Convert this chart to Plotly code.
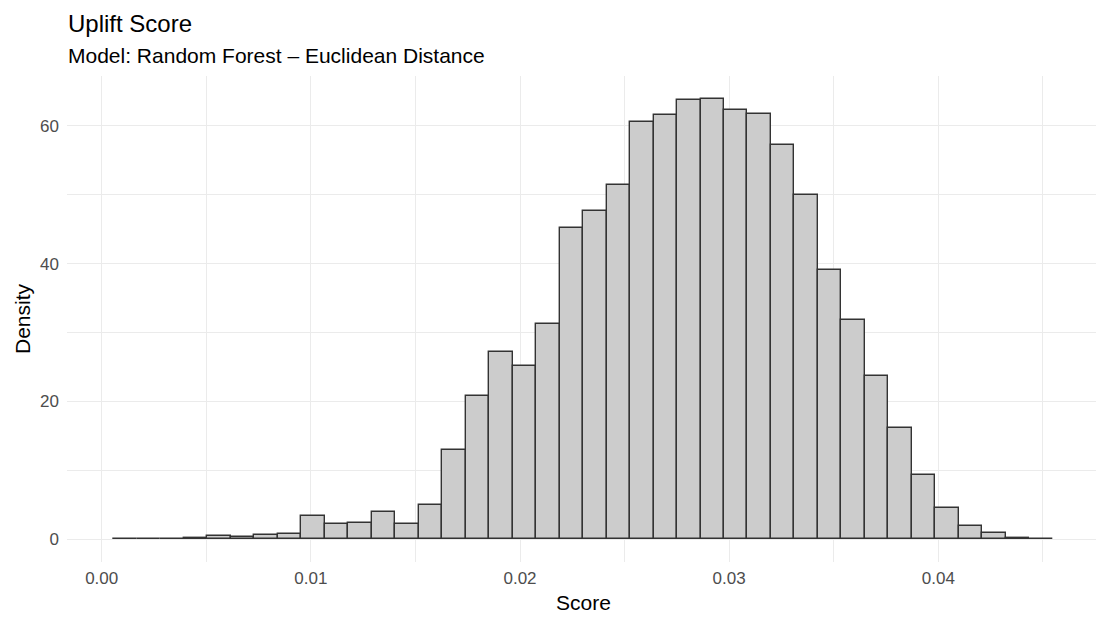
import plotly.graph_objects as go

# Histogram data (density per bin)
bin_start = 0.000555
bin_width = 0.001123
density = [0.05, 0.1, 0.1, 0.2, 0.43, 0.39, 0.68, 0.82, 3.33, 2.22,
           2.36, 4.0, 2.27, 4.98, 12.9, 20.8, 27.2, 25.2, 31.2, 45.1,
           47.6, 51.4, 60.6, 61.6, 63.7, 63.9, 62.3, 61.7, 57.2, 49.9,
           39.0, 31.8, 23.7, 16.2, 9.3, 4.6, 1.9, 0.87, 0.2, 0.05]
x_ticks = [0.00, 0.01, 0.02, 0.03, 0.04]
x_tick_labels = ["0.00", "0.01", "0.02", "0.03", "0.04"]
y_ticks = [0, 20, 40, 60]
y_tick_labels = ["0", "20", "40", "60"]

centers = [bin_start + (i + 0.5) * bin_width for i in range(len(density))]

W, H = 1096, 617
L, R, T, B = 67, 0, 76, 55
pw, ph = W - L - R, H - T - B

def px_to_paper_x(px):
    return (px - L) / pw

def py_to_paper_y(py):
    return (H - B - py) / ph

FONT = "Liberation Sans, Arial, Helvetica, sans-serif"
GRID = "#EBEBEB"

fig = go.Figure()
fig.add_trace(go.Bar(
    x=centers, y=density, width=[bin_width] * len(density),
    marker=dict(color="#CCCCCC", line=dict(color="#333333", width=1.4)),
    showlegend=False, hoverinfo="skip",
))

fig.update_layout(
    width=W, height=H,
    margin=dict(l=L, r=R, t=T, b=B),
    paper_bgcolor="white", plot_bgcolor="white",
    font=dict(family=FONT, color="#4D4D4D"),
    bargap=0,
    xaxis=dict(
        range=[-0.001659, 0.047540],
        tickvals=x_ticks, ticktext=x_tick_labels,
        tickfont=dict(size=17, color="#4D4D4D"),
        ticklabelstandoff=4,
        showgrid=True, gridcolor=GRID, gridwidth=1.4,
        minor=dict(dtick=0.005, tick0=0, showgrid=True, gridcolor=GRID, gridwidth=0.8),
        zeroline=False, showline=False, ticks="", ticklen=0,
    ),
    yaxis=dict(
        range=[-3.293, 67.21],
        tickvals=y_ticks, ticktext=y_tick_labels,
        tickfont=dict(size=17, color="#4D4D4D"),
        ticklabelstandoff=7,
        showgrid=True, gridcolor=GRID, gridwidth=1.4,
        minor=dict(dtick=10, tick0=0, showgrid=True, gridcolor=GRID, gridwidth=0.8),
        zeroline=False, showline=False, ticks="", ticklen=0,
    ),
    annotations=[
        dict(text="Uplift Score", xref="paper", yref="paper",
             x=px_to_paper_x(66), y=py_to_paper_y(23), xanchor="left", yanchor="middle",
             showarrow=False, font=dict(size=24, color="black", family=FONT)),
        dict(text="Model: Random Forest \u2013 Euclidean Distance", xref="paper", yref="paper",
             x=px_to_paper_x(66), y=py_to_paper_y(56), xanchor="left", yanchor="middle",
             showarrow=False, font=dict(size=21, color="black", family=FONT)),
        dict(text="Score", xref="paper", yref="paper",
             x=px_to_paper_x(583), y=py_to_paper_y(602), xanchor="center", yanchor="middle",
             showarrow=False, font=dict(size=21, color="black", family=FONT)),
        dict(text="Density", xref="paper", yref="paper", textangle=-90,
             x=px_to_paper_x(22), y=py_to_paper_y(319), xanchor="center", yanchor="middle",
             showarrow=False, font=dict(size=21, color="black", family=FONT)),
    ],
)

fig.write_html("out.html")
